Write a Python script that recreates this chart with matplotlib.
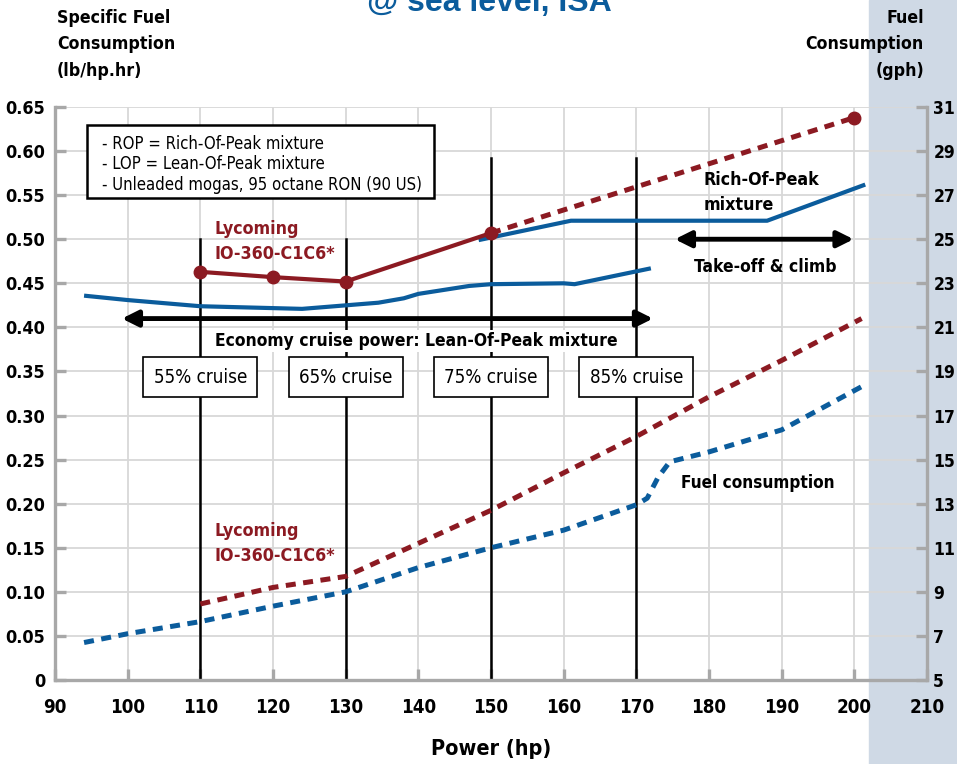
import matplotlib
matplotlib.use("Agg")
import matplotlib.pyplot as plt
from matplotlib import font_manager
from matplotlib.patches import Rectangle

# --- font: condensed look if we can get it
names = {f.name for f in font_manager.fontManager.ttflist}
NARROW = "Liberation Sans Narrow" if "Liberation Sans Narrow" in names else "DejaVu Sans"
WIDE = "Liberation Sans" if "Liberation Sans" in names else "DejaVu Sans"
plt.rcParams["font.family"] = [NARROW, "DejaVu Sans"]
if NARROW == "DejaVu Sans":
    plt.rcParams["font.stretch"] = "condensed"

RED = "#8c1a22"
BLUE = "#0b5c9c"
GRID = "#d8d8d8"
SPINE = "#a8a8a8"
PANEL = "#cfd9e5"

# --- data
# specific fuel consumption, lb/hp.hr
rop_lyc_hp = [110, 120, 130, 150]
rop_lyc_sfc = [0.463, 0.457, 0.452, 0.507]
rop_lyc_ext_hp = [150, 200]
rop_lyc_ext_sfc = [0.507, 0.638]

lop_hp = [94, 100, 110, 124, 130, 134.5, 138, 140, 147, 150, 160, 161.5, 165, 172]
lop_sfc = [0.436, 0.431, 0.424, 0.421, 0.425, 0.428, 0.433, 0.438, 0.447, 0.449, 0.450, 0.449, 0.455, 0.467]

rop_hp = [148.3, 161, 188, 201.5]
rop_sfc = [0.499, 0.521, 0.521, 0.562]

# fuel consumption, gph
fc_lyc_hp = [110, 120, 130, 140, 150, 160, 170, 180, 190, 201]
fc_lyc_gph = [8.45, 9.2, 9.7, 11.2, 12.7, 14.4, 16.05, 17.85, 19.5, 21.4]

fc_hp = [94, 100, 110, 120, 130, 140, 150, 160, 170, 171.5, 173, 174.6, 180, 190, 201.5]
fc_gph = [6.7, 7.1, 7.65, 8.35, 9.0, 10.1, 11.0, 11.8, 12.95, 13.25, 14.2, 14.9, 15.35, 16.35, 18.4]

cruise_hp = [110, 130, 150, 170]
cruise_labels = ["55% cruise", "65% cruise", "75% cruise", "85% cruise"]
cruise_top = [0.50, 0.50, 0.592, 0.592]

xticks = list(range(90, 211, 10))
yticks = [i * 0.05 for i in range(14)]
y2ticks = list(range(5, 32, 2))

fig = plt.figure(figsize=(9.57, 7.64), dpi=100)
fig.patches.append(Rectangle((869 / 957, 0), 1 - 869 / 957, 1, transform=fig.transFigure,
                             color=PANEL, zorder=-10))

ax = fig.add_axes([55 / 957, 1 - 680 / 764, (927 - 55) / 957, (680 - 107) / 764])
ax.set_facecolor("none")
ax.set_xlim(90, 210)
ax.set_ylim(0, 0.65)
ax.set_xticks(xticks)
ax.set_yticks(yticks)
ax.set_yticklabels(["0" if v == 0 else f"{v:.2f}" for v in yticks])
ax.set_axisbelow(True)
ax.grid(True, color=GRID, lw=1.3)
for s in ["top", "right"]:
    ax.spines[s].set_visible(False)
for s in ["left", "bottom"]:
    ax.spines[s].set_color(SPINE)
    ax.spines[s].set_linewidth(2.4)
ax.tick_params(axis="both", direction="in", length=8, width=2.4, color=SPINE, labelsize=13)
ax.tick_params(axis="x", labelsize=13.5, pad=13)
ax.tick_params(axis="y", pad=7)
for lbl in ax.get_xticklabels() + ax.get_yticklabels():
    lbl.set_fontweight("bold")

ax2 = ax.twinx()
ax2.set_ylim(5, 31)
ax2.set_yticks(y2ticks)
for s in ["top", "left", "bottom"]:
    ax2.spines[s].set_visible(False)
ax2.spines["right"].set_color(SPINE)
ax2.spines["right"].set_linewidth(2.4)
ax2.tick_params(axis="y", direction="in", length=8, width=2.4, color=SPINE, labelsize=12.5, pad=4.5)
for lbl in ax2.get_yticklabels():
    lbl.set_fontweight("bold")

# cruise power lines and boxes
for x, top, lab in zip(cruise_hp, cruise_top, cruise_labels):
    ax.plot([x, x], [0, top], color="black", lw=1.8, zorder=2)
    ax.text(x, 0.3435, lab, ha="center", va="center", fontsize=13.5, zorder=5,
            bbox=dict(boxstyle="square,pad=0.55", fc="white", ec="black", lw=1.2))

# sfc curves
ax.plot(lop_hp, lop_sfc, color=BLUE, lw=3, zorder=3, solid_capstyle="butt")
ax.plot(rop_hp, rop_sfc, color=BLUE, lw=3, zorder=3, solid_capstyle="butt")
ax.plot(rop_lyc_ext_hp, rop_lyc_ext_sfc, color=RED, lw=3.6, ls=(0, (2, 1.5)), zorder=3)
ax.plot(rop_lyc_hp, rop_lyc_sfc, color=RED, lw=3, zorder=3, marker="o", markersize=9)
ax.plot(rop_lyc_ext_hp[-1:], rop_lyc_ext_sfc[-1:], color=RED, marker="o", markersize=9, zorder=3)

# fuel consumption curves (right axis)
ax2.plot(fc_lyc_hp, fc_lyc_gph, color=RED, lw=3.6, ls=(0, (2, 1.5)))
ax2.plot(fc_hp, fc_gph, color=BLUE, lw=3.6, ls=(0, (2, 1.5)))

# arrows
ax.annotate("", xy=(172.3, 0.41), xytext=(99.2, 0.41),
            arrowprops=dict(arrowstyle="<|-|>", lw=3.5, color="black", mutation_scale=24,
                            shrinkA=0, shrinkB=0), zorder=4)
ax.annotate("", xy=(199.9, 0.50), xytext=(175.3, 0.50),
            arrowprops=dict(arrowstyle="<|-|>", lw=3.5, color="black", mutation_scale=24,
                            shrinkA=0, shrinkB=0), zorder=4)

# notes box
ax.add_patch(Rectangle((94.4, 0.547), 142.2 - 94.4, 0.6295 - 0.547, fc="white", ec="black",
                       lw=1.8, zorder=5))
for y, line in zip([0.608, 0.585, 0.561],
                   ["- ROP = Rich-Of-Peak mixture", "- LOP = Lean-Of-Peak mixture",
                    "- Unleaded mogas, 95 octane RON (90 US)"]):
    ax.text(96.5, y, line, ha="left", va="center", fontsize=12, zorder=6)

# labels
ax.text(112.0, 0.497, "Lycoming\nIO-360-C1C6*", color=RED, fontsize=12.8, fontweight="bold",
        ha="left", va="center", linespacing=1.5, zorder=6)
ax.text(112.0, 0.155, "Lycoming\nIO-360-C1C6*", color=RED, fontsize=12.8, fontweight="bold",
        ha="left", va="center", linespacing=1.5, zorder=6)
ax.text(179.3, 0.5525, "Rich-Of-Peak\nmixture", fontsize=12.8, fontweight="bold",
        ha="left", va="center", linespacing=1.5, zorder=6)
ax.text(187.7, 0.4685, "Take-off & climb", fontsize=12.5, fontweight="bold",
        ha="center", va="center", zorder=6)
ax.text(139.7, 0.3846, "Economy cruise power: Lean-Of-Peak mixture", fontsize=12.5,
        fontweight="bold", ha="center", va="center", zorder=6,
        bbox=dict(boxstyle="square,pad=0.12", fc="white", ec="none"))
ax.text(176.1, 0.2235, "Fuel consumption", fontsize=12.3, fontweight="bold",
        ha="left", va="center", zorder=6)

ax.set_xlabel("Power (hp)", fontsize=15.5, fontweight="bold", labelpad=16)

# headers
fig.text(57 / 957, 1 - 9 / 764, "Specific Fuel\nConsumption\n(lb/hp.hr)", fontsize=12.7,
         fontweight="bold", ha="left", va="top", linespacing=1.6)
fig.text(924 / 957, 1 - 9 / 764, "Fuel\nConsumption\n(gph)", fontsize=12.7,
         fontweight="bold", ha="right", va="top", ma="right", linespacing=1.6)
fig.text(489 / 957, 1 - 11 / 764, "@ sea level, ISA", fontsize=23, fontweight="bold",
         color=BLUE, family=WIDE, ha="center", va="baseline")

fig.savefig("out.png", dpi=100)
